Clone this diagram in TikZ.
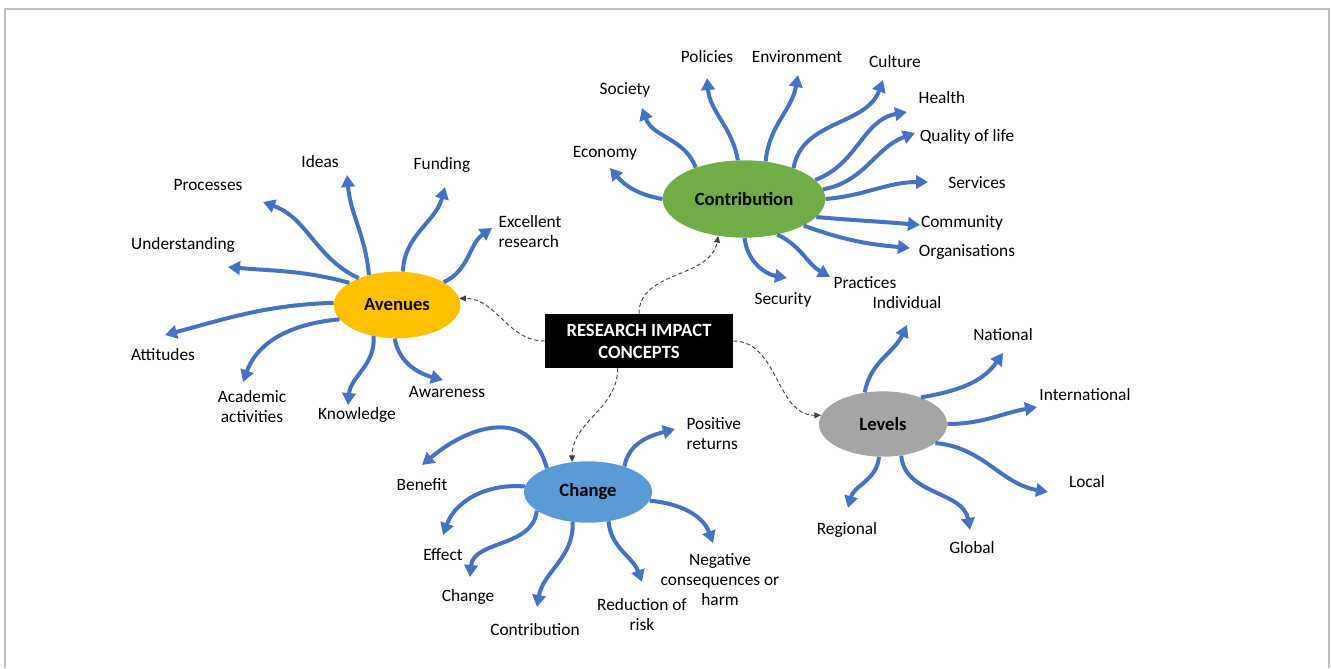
\documentclass[tikz,border=0pt]{standalone}
\usepackage{fontspec}
\setmainfont{Carlito}
\usepackage{xcolor}
\usepackage{tikz}
\usetikzlibrary{positioning}
\usetikzlibrary{shapes.geometric}
\usetikzlibrary{arrows.meta}
\definecolor{avcol}{HTML}{FFC000}
\definecolor{cocol}{HTML}{70AD47}
\definecolor{chcol}{HTML}{5B9BD5}
\definecolor{lvcol}{HTML}{A5A5A5}
\definecolor{armcol}{HTML}{4472C4}
\definecolor{framecol}{HTML}{BFBFBF}

\begin{document}
\begin{tikzpicture}[x=0.75pt,y=0.75pt,
  box/.style = {fill=black,text=white,inner sep=0pt,align=center,
        minimum width=141pt,minimum height=40.5pt,
        font=\fontsize{14}{16.5}\selectfont\bfseries},
  concept/.style = {ellipse,inner sep=0pt,
        font=\fontsize{14}{16}\selectfont\bfseries},
  leaf/.style = {inner sep=1pt,align=center,
        font=\fontsize{13}{15}\selectfont},
  branch/.style = {draw=armcol,line width=3pt,
        -{Triangle[length=9pt,width=10pt]}},
  link/.style = {draw=black!75,densely dashed,line width=0.7pt,
        -{Triangle[length=5pt,width=4.5pt]}}
]
 \useasboundingbox (0,0) rectangle (1331,-668);
 \draw[framecol,line width=1.5pt] (5,-668) -- (5,-9) -- (1329,-9) -- (1329,-668);

 \node[box] (ric) at (639,-341) {RESEARCH IMPACT\\CONCEPTS};
 \node[concept,fill=avcol,minimum width=95pt,minimum height=50pt] (avenues) at (397,-305) {Avenues};
 \node[concept,fill=cocol,minimum width=122pt,minimum height=58pt] (contribution) at (744,-199) {Contribution};
 \node[concept,fill=chcol,minimum width=96pt,minimum height=46pt] (change) at (588,-492) {Change};
 \node[concept,fill=lvcol,minimum width=96pt,minimum height=49pt] (levels) at (883,-424) {Levels};

 \draw[link] (ric.west) to[out=180,in=0] (avenues.6);
 \draw[link] (ric.north) to[out=90,in=-100] (contribution.235);
 \draw[link] (ric.-128) to[out=-90,in=90] (change.118);
 \draw[link] (ric.east) to[out=0,in=180] (levels.172);

 % Avenues
 \coordinate (processes-tip) at (263,-202);
 \coordinate (ideas-tip) at (347,-175);
 \coordinate (funding-tip) at (445,-187);
 \coordinate (excellent-tip) at (492,-228);
 \coordinate (understanding-tip) at (228,-267);
 \coordinate (attitudes-tip) at (165,-335);
 \coordinate (academic-tip) at (243,-382);
 \coordinate (knowledge-tip) at (348,-405);
 \coordinate (awareness-tip) at (443,-380);
 \node[leaf] (processes) at (208,-185) {Processes};
 \node[leaf] (ideas) at (320,-162) {Ideas};
 \node[leaf] (funding) at (442,-165) {Funding};
 \node[leaf,anchor=west,align=left] (excellent) at (497,-232) {Excellent\\research};
 \node[leaf] (understanding) at (183,-245) {Understanding};
 \node[leaf] (attitudes) at (163,-355) {Attitudes};
 \node[leaf] (academic) at (252,-407) {Academic\\activities};
 \node[leaf] (knowledge) at (357,-415) {Knowledge};
 \node[leaf] (awareness) at (447,-392) {Awareness};
 \begin{scope}[branch]
 \draw (avenues.145) to[out=155,in=-20] (processes-tip);
 \draw (avenues.133) to[out=95,in=-85] (ideas-tip);
 \draw (avenues.80) to[out=88,in=-105] (funding-tip);
 \draw (avenues.26) to[out=25,in=-145] (excellent-tip);
 \draw (avenues.155) to[out=165,in=-5] (understanding-tip);
 \draw (avenues.178) to[out=182,in=15] (attitudes-tip);
 \draw (avenues.194) to[out=185,in=70] (academic-tip);
 \draw (avenues.233) to[out=-85,in=85] (knowledge-tip);
 \draw (avenues.266) to[out=-80,in=165] (awareness-tip);
 \end{scope}

 % Contribution
 \coordinate (economy-tip) at (610,-168);
 \coordinate (society-tip) at (642,-108);
 \coordinate (policies-tip) at (707,-78);
 \coordinate (environment-tip) at (798,-75);
 \coordinate (culture-tip) at (883,-80);
 \coordinate (health-tip) at (907,-112);
 \coordinate (quality-tip) at (915,-133);
 \coordinate (services-tip) at (928,-182);
 \coordinate (community-tip) at (920,-225);
 \coordinate (organisations-tip) at (910,-248);
 \coordinate (security-tip) at (787,-278);
 \coordinate (practices-tip) at (830,-277);
 \node[leaf] (economy) at (605,-153) {Economy};
 \node[leaf] (society) at (625,-90) {Society};
 \node[leaf] (policies) at (707,-57) {Policies};
 \node[leaf] (environment) at (797,-57) {Environment};
 \node[leaf] (culture) at (895,-62) {Culture};
 \node[leaf] (health) at (942,-98) {Health};
 \node[leaf] (quality) at (967,-137) {Quality of life};
 \node[leaf] (services) at (977,-183) {Services};
 \node[leaf] (community) at (962,-223) {Community};
 \node[leaf] (organisations) at (967,-252) {Organisations};
 \node[leaf] (security) at (783,-300) {Security};
 \node[leaf] (practices) at (865,-283) {Practices};
 \begin{scope}[branch]
 \draw (contribution.180) to[out=170,in=-50] (economy-tip);
 \draw (contribution.147) to[out=110,in=-70] (society-tip);
 \draw (contribution.99) to[out=100,in=-85] (policies-tip);
 \draw (contribution.60) to[out=85,in=-100] (environment-tip);
 \draw (contribution.32) to[out=80,in=-110] (culture-tip);
 \draw (contribution.15) to[out=20,in=-170] (health-tip);
 \draw (contribution.7) to[out=10,in=-160] (quality-tip);
 \draw (contribution.0) to[out=5,in=180] (services-tip);
 \draw (contribution.-14) to[out=-5,in=175] (community-tip);
 \draw (contribution.-24) to[out=-20,in=175] (organisations-tip);
 \draw (contribution.-89) to[out=-85,in=170] (security-tip);
 \draw (contribution.-47) to[out=-25,in=150] (practices-tip);
 \end{scope}

 % Change
 \coordinate (benefit-tip) at (422,-465);
 \coordinate (effect-tip) at (443,-535);
 \coordinate (changeleaf-tip) at (470,-577);
 \coordinate (contribleaf-tip) at (537,-607);
 \coordinate (reduction-tip) at (642,-582);
 \coordinate (negative-tip) at (713,-543);
 \coordinate (positive-tip) at (675,-429);
 \node[leaf] (benefit) at (422,-485) {Benefit};
 \node[leaf] (effect) at (443,-555) {Effect};
 \node[leaf] (changeleaf) at (468,-597) {Change};
 \node[leaf] (contribleaf) at (535,-630) {Contribution};
 \node[leaf] (reduction) at (642,-615) {Reduction of\\risk};
 \node[leaf] (negative) at (720,-580) {Negative\\consequences or\\harm};
 \node[leaf,anchor=west,align=left] (positive) at (685,-434) {Positive\\returns};
 \begin{scope}[branch]
 \draw (change.150) to[out=105,in=40,looseness=1.3] (benefit-tip);
 \draw (change.175) to[out=175,in=70] (effect-tip);
 \draw (change.200) to[out=-95,in=85] (changeleaf-tip);
 \draw (change.243) to[out=-88,in=80] (contribleaf-tip);
 \draw (change.-55) to[out=-85,in=110] (reduction-tip);
 \draw (change.-8) to[out=-5,in=110] (negative-tip);
 \draw (change.35) to[out=80,in=-165] (positive-tip);
 \end{scope}

 % Levels
 \coordinate (individual-tip) at (907,-325);
 \coordinate (national-tip) at (1003,-353);
 \coordinate (international-tip) at (1037,-407);
 \coordinate (local-tip) at (1048,-492);
 \coordinate (global-tip) at (970,-530);
 \coordinate (regional-tip) at (848,-508);
 \node[leaf] (individual) at (907,-303) {Individual};
 \node[leaf] (national) at (1003,-335) {National};
 \node[leaf] (international) at (1085,-395) {International};
 \node[leaf] (local) at (1087,-482) {Local};
 \node[leaf] (global) at (972,-548) {Global};
 \node[leaf] (regional) at (847,-530) {Regional};
 \begin{scope}[branch]
 \draw (levels.120) to[out=80,in=-115] (individual-tip);
 \draw (levels.35) to[out=10,in=-125] (national-tip);
 \draw (levels.0) to[out=0,in=-170] (international-tip);
 \draw (levels.-20) to[out=-5,in=170] (local-tip);
 \draw (levels.-60) to[out=-85,in=100] (global-tip);
 \draw (levels.-97) to[out=-95,in=75] (regional-tip);
 \end{scope}
\end{tikzpicture}
\end{document}
